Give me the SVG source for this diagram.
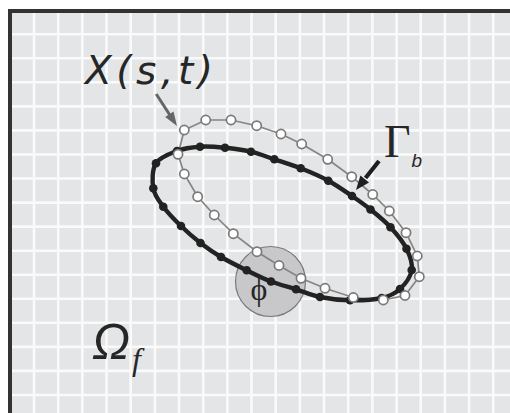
<svg xmlns="http://www.w3.org/2000/svg" width="510" height="413" viewBox="0 0 510 413">
<defs>
<style>
.grid line{stroke:#fafafa;stroke-width:2.6}
.hol{fill:#ffffff;stroke:#7a7a7a;stroke-width:1.7}
.blk{fill:#222222}
.lbl{fill:#262626}
</style>
</defs>
<rect x="0" y="0" width="510" height="413" fill="#ffffff"/>
<rect x="8" y="9" width="502" height="404" fill="#e4e5e7"/>
<g id="grid" class="grid">
<line x1="34" y1="9" x2="34" y2="413"/><line x1="58.2" y1="9" x2="58.2" y2="413"/><line x1="82.3" y1="9" x2="82.3" y2="413"/><line x1="106.5" y1="9" x2="106.5" y2="413"/><line x1="130.7" y1="9" x2="130.7" y2="413"/><line x1="154.9" y1="9" x2="154.9" y2="413"/><line x1="179" y1="9" x2="179" y2="413"/><line x1="203.2" y1="9" x2="203.2" y2="413"/><line x1="227.4" y1="9" x2="227.4" y2="413"/><line x1="251.5" y1="9" x2="251.5" y2="413"/><line x1="275.7" y1="9" x2="275.7" y2="413"/><line x1="299.9" y1="9" x2="299.9" y2="413"/><line x1="324" y1="9" x2="324" y2="413"/><line x1="348.2" y1="9" x2="348.2" y2="413"/><line x1="372.4" y1="9" x2="372.4" y2="413"/><line x1="396.6" y1="9" x2="396.6" y2="413"/><line x1="420.7" y1="9" x2="420.7" y2="413"/><line x1="444.9" y1="9" x2="444.9" y2="413"/><line x1="469.1" y1="9" x2="469.1" y2="413"/><line x1="493.2" y1="9" x2="493.2" y2="413"/>
<line x1="8" y1="34.2" x2="510" y2="34.2"/><line x1="8" y1="58.3" x2="510" y2="58.3"/><line x1="8" y1="82.3" x2="510" y2="82.3"/><line x1="8" y1="106.4" x2="510" y2="106.4"/><line x1="8" y1="130.4" x2="510" y2="130.4"/><line x1="8" y1="154.5" x2="510" y2="154.5"/><line x1="8" y1="178.5" x2="510" y2="178.5"/><line x1="8" y1="202.6" x2="510" y2="202.6"/><line x1="8" y1="226.6" x2="510" y2="226.6"/><line x1="8" y1="250.7" x2="510" y2="250.7"/><line x1="8" y1="274.7" x2="510" y2="274.7"/><line x1="8" y1="298.8" x2="510" y2="298.8"/><line x1="8" y1="322.8" x2="510" y2="322.8"/><line x1="8" y1="346.9" x2="510" y2="346.9"/><line x1="8" y1="370.9" x2="510" y2="370.9"/><line x1="8" y1="395" x2="510" y2="395"/>
</g>
<rect x="8" y="9" width="502" height="4" fill="#333333"/>
<rect x="8" y="9" width="4" height="404" fill="#333333"/>
<g id="phi-region">
<circle cx="270.5" cy="281.5" r="35" fill="#c8c8ca" stroke="#7a7a7a" stroke-width="1.2"/>
</g>
<g id="connectors">
<polygon id="X-curve-line" points="178,154.3 184.3,130 205.7,120 231,120 256.7,125.7 281,134 301.7,144 327.7,159.3 351.7,176.7 372.7,194.5 389.3,211 406,232.7 417.3,256 419.3,276.7 405,295.5 383.3,300 353.3,297.5 325,288.3 301,278.3 279,265.5 257,251.7 233.3,233.7 214.3,215 197.7,196.7 184.3,174" fill="none" stroke="#858585" stroke-width="1.7"/>
<path id="Gamma-curve" d="M177,151 C184.33,148.23 192,147.25 200,146.7 C208,146.15 216.5,146.87 225,147.7 C233.5,148.53 242.78,149.77 251,151.7 C259.22,153.63 266.02,156.53 274.3,159.3 C282.58,162.07 291.7,164.73 300.7,168.3 C309.7,171.870 319.75,176.08 328.3,180.7 C336.85,185.32 344.97,191.2 352,196 C359.03,200.8 364.08,204.28 370.5,209.5 C376.92,214.72 384.5,220.75 390.5,227.3 C396.5,233.85 402.97,241.68 406.5,248.8 C410.03,255.92 412.78,263.3 411.7,270 C410.62,276.7 405,284.33 400,289 C395,293.67 390.03,296.12 381.7,298 C373.37,299.88 360.28,300.47 350,300.3 C339.72,300.13 329,298.83 320,297 C311,295.17 304.17,291.88 296,289.3 C287.83,286.72 279.22,284.67 271,281.5 C262.78,278.33 255.03,274.38 246.7,270.3 C238.37,266.22 228.7,261.55 221,257 C213.3,252.45 207.17,248.17 200.5,243 C193.83,237.83 187.2,232.05 181,226 C174.8,219.95 167.92,212.98 163.3,206.7 C158.68,200.42 154.52,195.53 153.3,188.3 C152.08,181.07 152.05,169.52 156,163.3 C159.95,157.08 169.67,153.770 177,151 Z" fill="none" stroke="#232323" stroke-width="4.4"/>
<g id="arrow-X">
<line x1="156.2" y1="94" x2="170" y2="115.3" stroke="#666666" stroke-width="3"/>
<polygon points="177,126 165.2,117 173.5,111.6" fill="#666666"/>
</g>
<g id="arrow-Gamma">
<line x1="379" y1="161" x2="365.5" y2="178" stroke="#1e1e1e" stroke-width="4.2"/>
<polygon points="356,190 369,182.4 360.4,175.6" fill="#1e1e1e"/>
</g>
</g>
<g id="Gamma-points" class="blk">
<circle cx="177" cy="151" r="4.3"/><circle cx="200" cy="146.7" r="4.3"/><circle cx="225" cy="147.7" r="4.3"/><circle cx="251" cy="151.7" r="4.3"/><circle cx="274.3" cy="159.3" r="4.3"/><circle cx="300.7" cy="168.3" r="4.3"/><circle cx="328.3" cy="180.7" r="4.3"/><circle cx="352" cy="196" r="4.3"/><circle cx="370.5" cy="209.5" r="4.3"/><circle cx="390.5" cy="227.3" r="4.3"/><circle cx="406.5" cy="248.8" r="4.3"/><circle cx="411.7" cy="270" r="4.3"/><circle cx="400" cy="289" r="4.3"/><circle cx="381.7" cy="298" r="4.3"/><circle cx="350" cy="300.3" r="4.3"/><circle cx="320" cy="297" r="4.3"/><circle cx="296" cy="289.3" r="4.3"/><circle cx="271" cy="281.5" r="4.3"/><circle cx="246.7" cy="270.3" r="4.3"/><circle cx="221" cy="257" r="4.3"/><circle cx="200.5" cy="243" r="4.3"/><circle cx="181" cy="226" r="4.3"/><circle cx="163.3" cy="206.7" r="4.3"/><circle cx="153.3" cy="188.3" r="4.3"/><circle cx="156" cy="163.3" r="4.3"/>
</g>
<g id="X-points" class="hol">
<circle cx="178" cy="154.3" r="4.6"/><circle cx="184.3" cy="130" r="4.6"/><circle cx="205.7" cy="120" r="4.6"/><circle cx="231" cy="120" r="4.6"/><circle cx="256.7" cy="125.7" r="4.6"/><circle cx="281" cy="134" r="4.6"/><circle cx="301.7" cy="144" r="4.6"/><circle cx="327.7" cy="159.3" r="4.6"/><circle cx="351.7" cy="176.7" r="4.6"/><circle cx="372.7" cy="194.5" r="4.6"/><circle cx="389.3" cy="211" r="4.6"/><circle cx="406" cy="232.7" r="4.6"/><circle cx="417.3" cy="256" r="4.6"/><circle cx="419.3" cy="276.7" r="4.6"/><circle cx="405" cy="295.5" r="4.6"/><circle cx="383.3" cy="300" r="4.6"/><circle cx="353.3" cy="297.5" r="4.6"/><circle cx="325" cy="288.3" r="4.6"/><circle cx="301" cy="278.3" r="4.6"/><circle cx="279" cy="265.5" r="4.6"/><circle cx="257" cy="251.7" r="4.6"/><circle cx="233.3" cy="233.7" r="4.6"/><circle cx="214.3" cy="215" r="4.6"/><circle cx="197.7" cy="196.7" r="4.6"/><circle cx="184.3" cy="174" r="4.6"/>
</g>
<g id="labels" class="lbl">
<text id="label-X" x="85" y="84" font-family="'DejaVu Sans', sans-serif" font-style="italic" font-size="39" textLength="128" lengthAdjust="spacing">X(s,t)</text>
<text id="label-Gamma" x="384" y="157" font-family="'Liberation Serif', serif" font-size="46">Γ</text>
<text id="label-b" x="411.5" y="167" font-family="'Liberation Sans', sans-serif" font-style="italic" font-size="19">b</text>
<text id="label-phi" x="259" y="300" text-anchor="middle" font-family="'Liberation Serif', serif" font-size="32">ϕ</text>
<text id="label-Omega" x="92" y="359" font-family="'Liberation Sans', sans-serif" font-style="italic" font-size="50">Ω</text>
<text id="label-f" x="132" y="370" font-family="'Liberation Serif', serif" font-style="italic" font-size="32">f</text>
</g>
</svg>
